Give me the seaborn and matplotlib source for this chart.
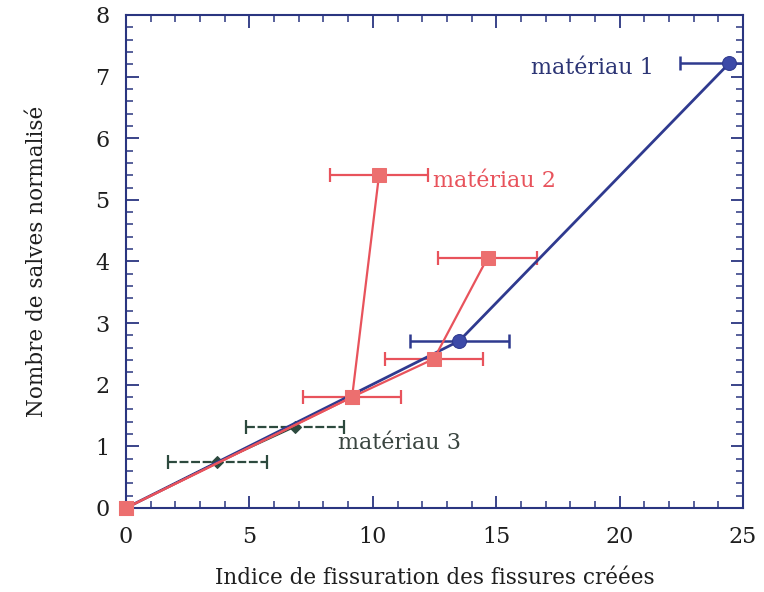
import numpy as np
import pandas as pd
import matplotlib
matplotlib.use("Agg")
import matplotlib.pyplot as plt
import seaborn as sns
from matplotlib.ticker import MultipleLocator

# matériau 1 (blue circles)
m1_x = [0.0, 13.5, 24.45]
m1_y = [0.0, 2.71, 7.22]
m1_xerr = [0.0, 2.0, 2.0]

# matériau 2 (red squares), two branches from the same origin
m2a_x = [0.0, 9.16, 10.25]
m2a_y = [0.0, 1.80, 5.40]
m2b_x = [0.0, 9.16, 12.48, 14.65]
m2b_y = [0.0, 1.80, 2.42, 4.06]
m2_pts_x = [9.16, 10.25, 12.48, 14.65]
m2_pts_y = [1.80, 5.40, 2.42, 4.06]
m2_xerr = [2.0, 2.0, 2.0, 2.0]

# matériau 3 (dark green diamonds)
m3_x = [0.0, 3.7, 6.85]
m3_y = [0.0, 0.74, 1.32]
m3_xerr = [0.0, 2.0, 2.0]

BLUE = "#2f3a8f"
RED = "#e8535c"
RED_FILL = "#ec6f6f"
GREEN = "#2d4a3e"
AXIS = "#2a3580"
TXT = "#1e1e1e"

sns.set_style("ticks")
plt.rcParams['font.family'] = ['DejaVu Serif']

fig = plt.figure(figsize=(7.64, 5.92), dpi=100)
ax = fig.add_axes([0.165, 0.142, 0.8075, 0.8327])

df1 = pd.DataFrame({"x": m1_x, "y": m1_y})
df2a = pd.DataFrame({"x": m2a_x, "y": m2a_y})
df2b = pd.DataFrame({"x": m2b_x, "y": m2b_y})
df3 = pd.DataFrame({"x": m3_x, "y": m3_y})

# error bars
eb3 = ax.errorbar(m3_x[1:], m3_y[1:], xerr=m3_xerr[1:], fmt="none", ecolor=GREEN,
                  elinewidth=1.6, capsize=5, capthick=1.6, zorder=2)
eb3[2][0].set_linestyle((0, (4, 1.2)))
ax.errorbar(m1_x[1:], m1_y[1:], xerr=m1_xerr[1:], fmt="none", ecolor=BLUE,
            elinewidth=1.8, capsize=5, capthick=1.8, zorder=2)
ax.errorbar(m2_pts_x, m2_pts_y, xerr=m2_xerr, fmt="none", ecolor=RED,
            elinewidth=1.6, capsize=5, capthick=1.6, zorder=2)

sns.lineplot(data=df3, x="x", y="y", ax=ax, color=GREEN, lw=1.5, marker="D",
             markersize=6, markeredgecolor=GREEN, sort=False, zorder=3)
sns.lineplot(data=df1, x="x", y="y", ax=ax, color=BLUE, lw=2.0, marker="o",
             markersize=10, markeredgecolor=BLUE, markerfacecolor="#3d4aa8",
             sort=False, zorder=4)
sns.lineplot(data=df2a, x="x", y="y", ax=ax, color=RED, lw=1.6, marker="s",
             markersize=10, markeredgecolor=RED_FILL, markerfacecolor=RED_FILL,
             sort=False, zorder=5)
sns.lineplot(data=df2b, x="x", y="y", ax=ax, color=RED, lw=1.6, marker="s",
             markersize=10, markeredgecolor=RED_FILL, markerfacecolor=RED_FILL,
             sort=False, zorder=5)
for ln in ax.lines:
    ln.set_clip_on(False)

ax.text(16.4, 7.14, "matériau 1", color="#2c3575", fontsize=16, va="center", ha="left")
ax.text(12.45, 5.3, "matériau 2", color=RED, fontsize=16, va="center", ha="left")
ax.text(8.6, 1.06, "matériau 3", color="#3a4540", fontsize=16, va="center", ha="left")

ax.set_xlim(0, 25)
ax.set_ylim(0, 8)
ax.xaxis.set_major_locator(MultipleLocator(5))
ax.xaxis.set_minor_locator(MultipleLocator(1))
ax.yaxis.set_major_locator(MultipleLocator(1))
ax.yaxis.set_minor_locator(MultipleLocator(0.2))
ax.tick_params(which="both", direction="in", top=True, right=True, color=AXIS,
               labelsize=16, labelcolor=TXT)
ax.tick_params(which="major", length=9, width=1.3)
ax.tick_params(which="minor", length=5, width=1.1)
ax.tick_params(axis="x", which="major", pad=13)
ax.tick_params(axis="y", which="major", pad=12)
for sp in ax.spines.values():
    sp.set_color(AXIS)
    sp.set_linewidth(1.5)

ax.set_xlabel("Indice de fissuration des fissures créées", fontsize=15.5, color=TXT, labelpad=14)
ax.set_ylabel("Nombre de salves normalisé", fontsize=15.5, color=TXT, labelpad=34)

fig.savefig("out.png", dpi=100)
